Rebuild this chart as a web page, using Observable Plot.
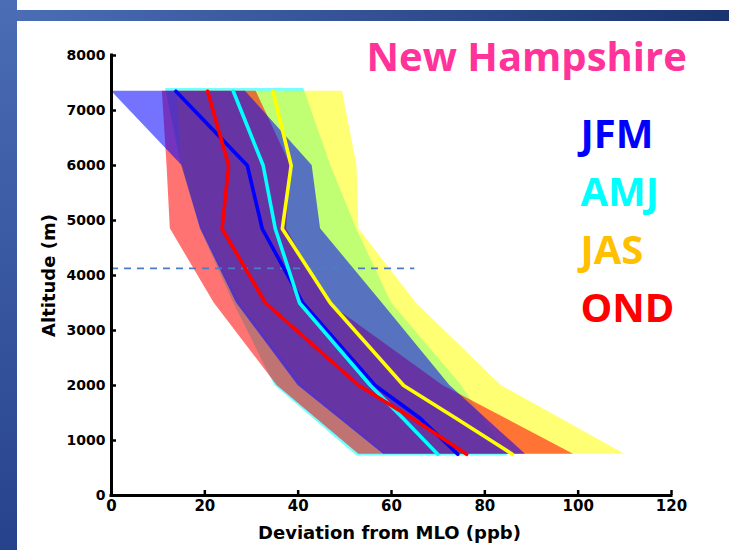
<!DOCTYPE html>
<html>
<head>
<meta charset="utf-8">
<script src="https://cdn.jsdelivr.net/npm/d3@7"></script>
<script src="https://cdn.jsdelivr.net/npm/@observablehq/plot@0.6"></script>
<style>
  html, body { margin: 0; padding: 0; background: #fff; }
  #slide { position: relative; width: 729px; height: 550px; overflow: hidden; background: #fff; }
  #stripe { position: absolute; left: 0; top: 0; width: 17px; height: 550px;
            background: linear-gradient(#4a6db6, #27428c); }
  #band { position: absolute; left: 17px; top: 10px; width: 712px; height: 11px;
          background: linear-gradient(90deg, #4a6db6, #1b3470); }
  #chart { position: absolute; left: 0; top: 0; }
</style>
</head>
<body>
<div id="slide">
  <div id="stripe"></div>
  <div id="band"></div>
  <div id="chart"></div>
</div>
<script>
// Seasons, in legend order, and their colours
const seasons = ["JFM", "AMJ", "JAS", "OND"];
const lineColors = ["#0000ff", "#00ffff", "#ffff00", "#ff0000"];
const labelColors = ["#0000ff", "#00ffff", "#ffc000", "#ff0000"];

// Altitude levels (m) of the envelope vertices
const altitude = [7350, 6000, 4850, 3500, 2000, 750];
const amjAltitude = [7400, 6000, 4850, 3500, 2000, 720];

// Envelope (range) of the deviation from MLO, ppb
const jfmLow  = [0, 15.1, 19.1, 26.8, 40.0, 58.3];
const jfmHigh = [28.7, 43.0, 44.8, 58.0, 72.5, 88.7];
const amjLow  = [11.6, 15.0, 19.0, 26.2, 35.0, 52.6];
const amjHigh = [41.2, 47.0, 52.5, 60.0, 75.0, 85.0];
const jasLow  = [14.0, 15.0, 19.5, 27.5, 41.0, 59.0];
const jasHigh = [49.5, 52.6, 53.0, 65.3, 83.5, 110.0];
const ondLow  = [10.9, 11.9, 12.6, 22.0, 35.5, 53.0];
const ondHigh = [31.0, 38.4, 37.5, 46.5, 71.0, 99.0];

// Mean profiles, ppb
const lineAltitude = [7350, 6000, 4850, 3500, 2000, 1400, 750];
const jfmMean = [13.8, 29.1, 32.3, 41.0, 56.5, 66.2, 74.2];
const amjMean = [26.1, 32.5, 35.1, 40.3, 55.5, 62.5, 69.9];
const jasMean = [34.6, 38.5, 36.6, 46.9, 62.6, 73.9, 85.9];
const ondMean = [20.6, 25.1, 23.7, 33.0, 53.0, 64.5, 76.1];

// Mauna Loa altitude reference and where its dashed line stops
const mloAltitude = 4130;
const mloLineEnd = 65;

const xTicks = [0, 20, 40, 60, 80, 100, 120];
const yTicks = [0, 1000, 2000, 3000, 4000, 5000, 6000, 7000, 8000];

const rows = (alts, lo, hi) => alts.map((alt, i) => ({alt, lo: lo[i], hi: hi[i]}));
const profile = (alts, dev) => alts.map((alt, i) => ({alt, dev: dev[i]}));

// Envelopes drawn in stacking order: AMJ, JAS, OND, JFM
const bands = [
  {fill: lineColors[1], data: rows(amjAltitude, amjLow, amjHigh)},
  {fill: lineColors[2], data: rows(altitude, jasLow, jasHigh)},
  {fill: lineColors[3], data: rows(altitude, ondLow, ondHigh)},
  {fill: lineColors[0], data: rows(altitude, jfmLow, jfmHigh)}
];
const profiles = [
  {stroke: lineColors[0], data: profile(lineAltitude, jfmMean)},
  {stroke: lineColors[1], data: profile(lineAltitude, amjMean)},
  {stroke: lineColors[2], data: profile(lineAltitude, jasMean)},
  {stroke: lineColors[3], data: profile(lineAltitude, ondMean)}
];

const bigFont = "'Open Sans', 'Noto Sans', sans-serif";
const plain = d => String(d);

const chart = Plot.plot({
  width: 729,
  height: 550,
  marginLeft: 111,
  marginRight: 58,
  marginTop: 55,
  marginBottom: 55,
  style: {background: "transparent", fontFamily: "'DejaVu Sans', sans-serif", fontSize: "14px", fontWeight: "bold", overflow: "visible"},
  x: {domain: [0, 120]},
  y: {domain: [0, 8000]},
  marks: [
    ...bands.map(b => Plot.areaX(b.data, {y: "alt", x1: "lo", x2: "hi", fill: b.fill, fillOpacity: 0.55})),
    Plot.ruleY([mloAltitude], {x1: 0, x2: mloLineEnd, stroke: "#4a7cc8", strokeWidth: 1.6, strokeDasharray: "7,6"}),
    ...profiles.map(p => Plot.line(p.data, {x: "dev", y: "alt", stroke: p.stroke, strokeWidth: 3.6})),
    // inward tick marks
    Plot.axisX({ticks: xTicks, tickSize: -5, tickFormat: () => "", strokeWidth: 2.5, label: null}),
    Plot.axisY({ticks: yTicks, tickSize: -5, tickFormat: () => "", strokeWidth: 2.5, label: null}),
    // tick labels
    Plot.axisX({ticks: xTicks, tickSize: 0, tickPadding: 5, tickFormat: plain, label: null, fill: "#000", fontSize: 15}),
    Plot.axisY({ticks: yTicks, tickSize: 0, tickPadding: 6, tickFormat: plain, label: null, fill: "#000"}),
    // axis lines
    Plot.ruleX([0], {stroke: "#000", strokeWidth: 3, strokeLinecap: "square"}),
    Plot.ruleY([0], {stroke: "#000", strokeWidth: 3, strokeLinecap: "square"}),
    // axis titles
    Plot.text(["Altitude (m)"], {frameAnchor: "left", dx: -62, rotate: -90, textAnchor: "middle", fontSize: 18, fontWeight: "bold", fill: "#000"}),
    Plot.text(["Deviation from MLO (ppb)"], {frameAnchor: "bottom", dx: -2, dy: 43, lineAnchor: "bottom", textAnchor: "middle", fontSize: 18, fontWeight: "bold", fill: "#000"}),
    // site name
    Plot.text(["New Hampshire"], {frameAnchor: "top-left", dx: 255, dy: 15, lineAnchor: "bottom", textAnchor: "start",
      fontFamily: bigFont, fontSize: 40, fontWeight: "bold", fill: "#ff3399"}),
    // season labels
    ...seasons.map((s, i) => Plot.text([s], {frameAnchor: "top-left", dx: 469, dy: 92 + i * 58, lineAnchor: "bottom", textAnchor: "start",
      fontFamily: bigFont, fontSize: 40, fontWeight: "bold", fill: labelColors[i]}))
  ]
});
document.getElementById("chart").appendChild(chart);
</script>
</body>
</html>
